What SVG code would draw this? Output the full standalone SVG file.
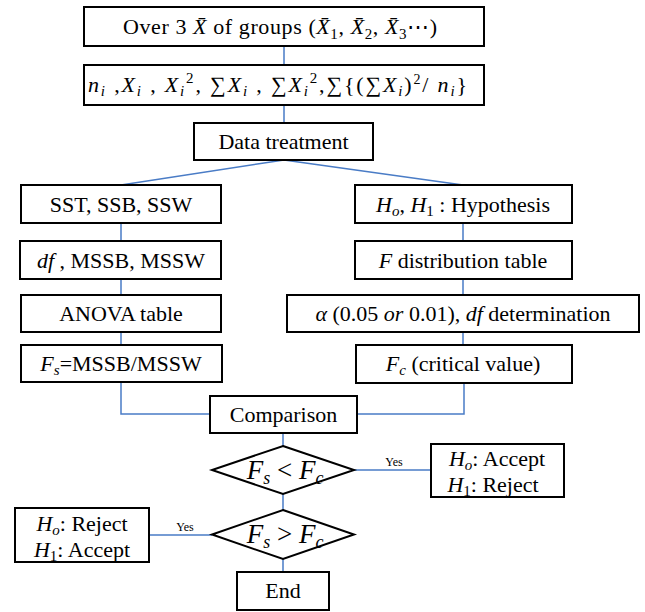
<svg xmlns="http://www.w3.org/2000/svg" width="645" height="612" viewBox="0 0 645 612">
<style>
.box{fill:#fff;stroke:#000;stroke-width:2}
.conn{stroke:#4a7cc6;stroke-width:1.5;fill:none}
text{font-size:22px;fill:#000;text-anchor:middle}
.m{font-style:italic}
.big{font-size:27px}
.lbl{font-size:12px}
</style>
<rect width="645" height="612" fill="#fff"/>
<g font-family="Liberation Serif, Tinos, Times New Roman, serif">
<g id="connectors">
<path class="conn" d="M284,46V65M284,105V123M284,160L121,185M284,160L463,185M121,223V241M463,223V241M121,279V295M463,279V295M121,332V345M463,332V345M121,382V414H210M464,383V414H357M283,433V446M283,494V510M283,559V572M354,470H431M212,535H149"/>
<text class="lbl" x="394" y="466">Yes</text>
<text class="lbl" x="185" y="531">Yes</text>
</g>
<g id="n1"><rect class="box" x="84" y="7" width="400" height="39"/>
<text x="280" y="34" textLength="314" lengthAdjust="spacing">Over 3 <tspan class="m">X̄</tspan> of groups (<tspan class="m">X̄</tspan><tspan dy="5" font-size="15">1</tspan><tspan dy="-5">, </tspan><tspan class="m">X̄</tspan><tspan dy="5" font-size="15">2</tspan><tspan dy="-5">, </tspan><tspan class="m">X̄</tspan><tspan dy="5" font-size="15">3</tspan><tspan dy="-5">⋯)</tspan></text></g>
<g id="n2"><rect class="box" x="84" y="65" width="400" height="40"/>
<text x="277.5" y="92" font-size="23" textLength="379" lengthAdjust="spacing"><tspan class="m">n</tspan><tspan class="m" dy="4" font-size="15">i</tspan><tspan dy="-4"> ,</tspan><tspan class="m">X</tspan><tspan class="m" dy="4" font-size="15">i</tspan><tspan dy="-4"> ,  </tspan><tspan class="m">X</tspan><tspan class="m" dy="4" font-size="15">i</tspan><tspan dy="-13" font-size="15">2</tspan><tspan dy="9">, ∑</tspan><tspan class="m">X</tspan><tspan class="m" dy="4" font-size="15">i</tspan><tspan dy="-4"> , ∑</tspan><tspan class="m">X</tspan><tspan class="m" dy="4" font-size="15">i</tspan><tspan dy="-13" font-size="15">2</tspan><tspan dy="9">,∑{(∑</tspan><tspan class="m">X</tspan><tspan class="m" dy="4" font-size="15">i</tspan><tspan dy="-4">)</tspan><tspan dy="-8" font-size="14">2</tspan><tspan dy="8">/ </tspan><tspan class="m">n</tspan><tspan class="m" dy="4" font-size="15">i</tspan><tspan dy="-4">}</tspan></text></g>
<g id="n3"><rect class="box" x="194" y="123" width="179" height="37"/><text x="283.5" y="149">Data treatment</text></g>
<g id="n4"><rect class="box" x="21" y="185" width="200" height="38"/><text x="121" y="212">SST, SSB, SSW</text></g>
<g id="n5"><rect class="box" x="355" y="185" width="217" height="38"/><text x="463" y="212"><tspan class="m">H</tspan><tspan class="m" dy="4" font-size="15">o</tspan><tspan dy="-4">, </tspan><tspan class="m">H</tspan><tspan dy="4" font-size="15">1</tspan><tspan dy="-4"> : Hypothesis</tspan></text></g>
<g id="n6"><rect class="box" x="20" y="241" width="201" height="38"/><text x="121" y="268"><tspan class="m">df</tspan> , MSSB, MSSW</text></g>
<g id="n7"><rect class="box" x="355" y="241" width="217" height="38"/><text x="463" y="268"><tspan class="m">F</tspan> distribution table</text></g>
<g id="n8"><rect class="box" x="21" y="295" width="200" height="37"/><text x="121" y="321">ANOVA table</text></g>
<g id="n9"><rect class="box" x="287" y="295" width="352" height="37"/><text x="463" y="321"><tspan class="m">α</tspan> (0.05 <tspan class="m">or</tspan> 0.01), <tspan class="m">df</tspan> determination</text></g>
<g id="n10"><rect class="box" x="21" y="345" width="201" height="37"/><text x="121" y="371"><tspan class="m">F</tspan><tspan class="m" dy="4" font-size="15">s</tspan><tspan dy="-4">=MSSB/MSSW</tspan></text></g>
<g id="n11"><rect class="box" x="356" y="345" width="216" height="38"/><text x="463" y="371"><tspan class="m">F</tspan><tspan class="m" dy="4" font-size="15">c</tspan><tspan dy="-4">  (critical value)</tspan></text></g>
<g id="n12"><rect class="box" x="210" y="396" width="147" height="37"/><text x="283.5" y="422">Comparison</text></g>
<g id="n13"><polygon class="box" points="283,446 354,470 283,494 212,470"/><text class="big" x="285" y="479"><tspan class="m">F</tspan><tspan class="m" dy="5" font-size="18">s</tspan><tspan dy="-5"> &lt; </tspan><tspan class="m">F</tspan><tspan class="m" dy="5" font-size="18">c</tspan></text></g>
<g id="n14"><polygon class="box" points="283,510 354,534.5 283,559 212,534.5"/><text class="big" x="285" y="543"><tspan class="m">F</tspan><tspan class="m" dy="5" font-size="18">s</tspan><tspan dy="-5"> &gt; </tspan><tspan class="m">F</tspan><tspan class="m" dy="5" font-size="18">c</tspan></text></g>
<g id="n15"><rect class="box" x="431" y="444" width="133" height="53"/>
<text x="497" y="466"><tspan class="m">H</tspan><tspan class="m" dy="4" font-size="15">o</tspan><tspan dy="-4">: Accept</tspan></text>
<text x="493" y="492"><tspan class="m">H</tspan><tspan dy="4" font-size="15">1</tspan><tspan dy="-4">: Reject</tspan></text></g>
<g id="n16"><rect class="box" x="15" y="508" width="134" height="54"/>
<text x="82" y="531"><tspan class="m">H</tspan><tspan class="m" dy="4" font-size="15">o</tspan><tspan dy="-4">: Reject</tspan></text>
<text x="82" y="557"><tspan class="m">H</tspan><tspan dy="4" font-size="15">1</tspan><tspan dy="-4">: Accept</tspan></text></g>
<g id="n17"><rect class="box" x="237" y="572" width="92" height="38"/><text x="283" y="598">End</text></g>
</g>
</svg>
